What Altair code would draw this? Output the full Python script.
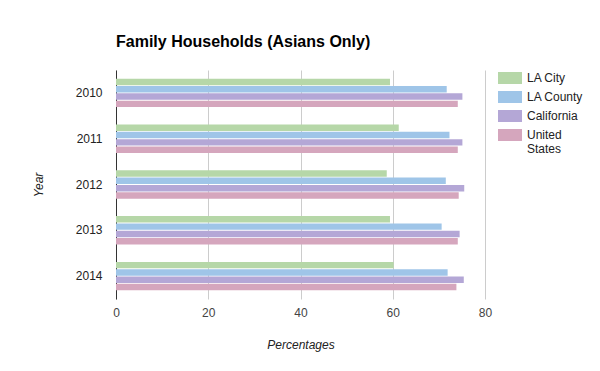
import altair as alt
import pandas as pd

years = ["2010", "2011", "2012", "2013", "2014"]
series = ["LA City", "LA County", "California", "United States"]
la_city = [59.4, 61.3, 58.7, 59.4, 60.2]
la_county = [71.7, 72.3, 71.5, 70.6, 71.9]
california = [75.1, 75.1, 75.5, 74.5, 75.4]
united_states = [74.1, 74.1, 74.3, 74.1, 73.8]
colors = ["#b6d7a8", "#9fc5e8", "#b4a7d6", "#d5a6bd"]

rows = []
for name, vals in zip(series, [la_city, la_county, california, united_states]):
    for y, v in zip(years, vals):
        rows.append({"Year": y, "Series": name, "Value": v})
df = pd.DataFrame(rows)

FONT = "Liberation Sans"

chart = alt.Chart(df).mark_bar().encode(
    x=alt.X(
        "Value:Q",
        scale=alt.Scale(domain=[0, 80], nice=False),
        axis=alt.Axis(
            title="Percentages",
            values=[0, 20, 40, 60, 80],
            grid=True,
            gridColor="#cccccc",
            domain=False,
            ticks=False,
            labelFlush=False,
            labelPadding=8,
            labelColor="#444444",
            labelFontSize=12,
            labelFont=FONT,
            titleFont=FONT,
            titleFontSize=12,
            titleFontStyle="italic",
            titleFontWeight="normal",
            titleColor="#222222",
            titleY=45,
            titleBaseline="middle",
        ),
    ),
    y=alt.Y(
        "Year:N",
        sort=years,
        scale=alt.Scale(paddingInner=0.38, paddingOuter=0.19),
        axis=alt.Axis(
            title="Year",
            domain=True,
            domainColor="#333333",
            ticks=False,
            labelPadding=14,
            labelColor="#222222",
            labelFontSize=12,
            labelFont=FONT,
            titleFont=FONT,
            titleFontSize=12,
            titleFontStyle="italic",
            titleFontWeight="normal",
            titleColor="#222222",
            titleX=-78,
            titleBaseline="middle",
        ),
    ),
    yOffset=alt.YOffset("Series:N", sort=series, scale=alt.Scale(paddingInner=0.12)),
    color=alt.Color(
        "Series:N",
        sort=series,
        scale=alt.Scale(domain=series, range=colors),
        legend=alt.Legend(
            title=None,
            orient="none",
            legendX=382,
            legendY=-4,
            symbolType="M-1,-0.5H1V0.5H-1Z",
            symbolSize=576,
            symbolStrokeWidth=0,
            symbolOpacity=1,
            labelFont=FONT,
            labelFontSize=12,
            labelColor="#222222",
            labelOffset=5,
            rowPadding=1,
            labelExpr="datum.label == 'United States' ? ['United', 'States'] : datum.label",
        ),
    ),
).properties(
    width=369,
    height=229,
    title=alt.TitleParams(
        "Family Households (Asians Only)",
        anchor="start",
        frame="group",
        font=FONT,
        fontSize=16,
        fontWeight="bold",
        color="#000000",
        offset=16,
    ),
    autosize=alt.AutoSizeParams(type="none"),
    padding={"left": 108, "top": 62, "right": 100, "bottom": 60},
).configure_view(stroke=None)

chart.save("out.html", embed_options={"renderer": "svg", "actions": False})
